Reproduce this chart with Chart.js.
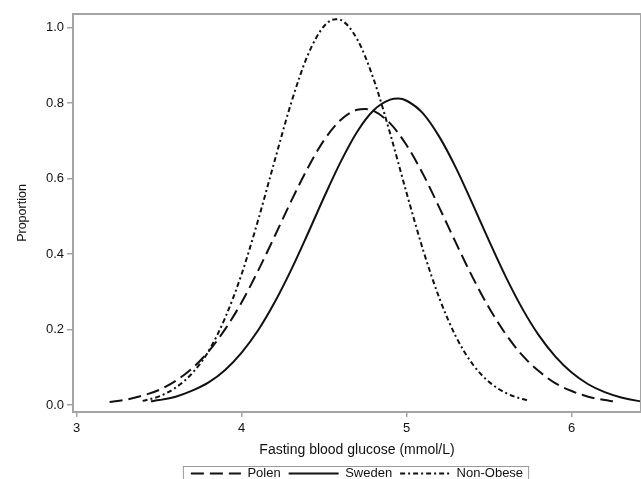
<!DOCTYPE html>
<html>
<head>
<meta charset="utf-8">
<script src="https://cdn.jsdelivr.net/npm/chart.js@4.4.0/dist/chart.umd.min.js"></script>
<style>
  html, body { margin: 0; padding: 0; background: #fff; }
  #wrap { width: 641px; height: 479px; }
</style>
</head>
<body>
<div id="wrap"><canvas id="myChart"></canvas></div>
<script>
// values
const polenX = [3.2, 3.3, 3.4, 3.5, 3.6, 3.7, 3.8, 3.9, 4.0, 4.1, 4.2, 4.3, 4.4, 4.5, 4.6, 4.7, 4.75,
  4.8, 4.9, 5.0, 5.1, 5.2, 5.3, 5.4, 5.5, 5.6, 5.7, 5.8, 5.9, 6.0, 6.1, 6.2, 6.25];
const polenY = [0.008, 0.014, 0.025, 0.040, 0.064, 0.097, 0.142, 0.201, 0.272, 0.356, 0.447, 0.540,
  0.627, 0.702, 0.755, 0.782, 0.784, 0.779, 0.746, 0.688, 0.611, 0.521, 0.428, 0.338, 0.257, 0.188, 0.132,
  0.090, 0.058, 0.037, 0.022, 0.013, 0.010];

const swedenX = [3.45, 3.5, 3.6, 3.7, 3.8, 3.9, 4.0, 4.1, 4.2, 4.3, 4.4, 4.5, 4.6, 4.7, 4.8, 4.9, 4.95,
  5.0, 5.1, 5.2, 5.3, 5.4, 5.5, 5.6, 5.7, 5.8, 5.9, 6.0, 6.1, 6.2, 6.3, 6.4, 6.5];
const swedenY = [0.010, 0.013, 0.022, 0.038, 0.060, 0.093, 0.139, 0.198, 0.272, 0.358, 0.453, 0.551,
  0.644, 0.724, 0.781, 0.809, 0.812, 0.806, 0.772, 0.709, 0.627, 0.532, 0.434, 0.340, 0.256, 0.185, 0.129,
  0.086, 0.055, 0.034, 0.020, 0.011, 0.006];

const nonObeseX = [3.4, 3.5, 3.6, 3.7, 3.8, 3.9, 4.0, 4.1, 4.2, 4.3, 4.4, 4.5, 4.57, 4.6, 4.7, 4.8, 4.9,
  5.0, 5.1, 5.2, 5.3, 5.4, 5.5, 5.6, 5.7, 5.73];
const nonObeseY = [0.011, 0.023, 0.046, 0.084, 0.143, 0.231, 0.347, 0.490, 0.647, 0.800, 0.926, 1.004,
  1.022, 1.020, 0.969, 0.863, 0.719, 0.561, 0.410, 0.281, 0.180, 0.108, 0.061, 0.032, 0.016, 0.013];

const xTicks = [3, 4, 5, 6];
const yTicks = [0, 0.2, 0.4, 0.6, 0.8, 1.0];

const seriesNames = ['Polen', 'Sweden', 'Non-Obese'];

function toPoints(xs, ys) {
  return xs.map((x, i) => ({ x: x, y: ys[i] }));
}

const FONT = "'Liberation Sans', Arial, sans-serif";
const FRAME = '#a4a4a4';

// box around the plot area (all four sides)
const framePlugin = {
  id: 'frame',
  afterDatasetsDraw(chart) {
    const a = chart.chartArea;
    const c = chart.ctx;
    c.save();
    c.strokeStyle = FRAME;
    c.lineWidth = 2;
    c.strokeRect(a.left, a.top, a.right - a.left, a.bottom - a.top);
    c.restore();
  }
};

// thin box around the legend entries
const legendBoxPlugin = {
  id: 'legendBox',
  afterDraw(chart) {
    const hb = chart.legend.legendHitBoxes;
    if (!hb || !hb.length) return;
    const first = hb[0];
    const last = hb[hb.length - 1];
    const c = chart.ctx;
    const left = first.left - 8;
    const right = last.left + last.width + 5;
    const top = first.top - 1;
    c.save();
    c.strokeStyle = '#9a9a9a';
    c.lineWidth = 1;
    c.strokeRect(left + 0.5, top + 0.5, right - left, 30);
    c.restore();
  }
};

var ctx = document.getElementById('myChart').getContext('2d');
var chart = new Chart(ctx, {
    type: 'line',
    data: {
        datasets: [{
            label: seriesNames[0],
            data: toPoints(polenX, polenY),
            borderColor: '#111',
            backgroundColor: '#111',
            borderWidth: 2,
            borderDash: [13, 6],
            pointRadius: 0,
            fill: false,
            cubicInterpolationMode: 'monotone'
        }, {
            label: seriesNames[1],
            data: toPoints(swedenX, swedenY),
            borderColor: '#111',
            backgroundColor: '#111',
            borderWidth: 2,
            pointRadius: 0,
            fill: false,
            cubicInterpolationMode: 'monotone'
        }, {
            label: seriesNames[2],
            data: toPoints(nonObeseX, nonObeseY),
            borderColor: '#111',
            backgroundColor: '#111',
            borderWidth: 2,
            borderDash: [5, 3, 2, 3],
            pointRadius: 0,
            fill: false,
            cubicInterpolationMode: 'monotone'
        }]
    },
    options: {
        responsive: true,
        maintainAspectRatio: false,
        animation: false,
        layout: { padding: { top: 14, right: 0, left: 0, bottom: -11 } },
        plugins: {
            tooltip: { enabled: false },
            legend: {
                position: 'bottom',
                fullSize: false,
                labels: {
                    usePointStyle: true,
                    pointStyle: 'line',
                    pointStyleWidth: 50,
                    padding: 8,
                    color: '#111',
                    font: { family: FONT, size: 13 },
                    // point style legends lose the dash, so put it back from the dataset
                    generateLabels: (chart) => {
                        const items = Chart.defaults.plugins.legend.labels.generateLabels(chart);
                        items.forEach((it) => {
                            const ds = chart.data.datasets[it.datasetIndex];
                            it.lineDash = ds.borderDash || [];
                            it.lineWidth = 2;
                            it.strokeStyle = ds.borderColor;
                        });
                        return items;
                    }
                }
            }
        },
        scales: {
            x: {
                type: 'linear',
                min: 2.978,
                max: 6.42,
                afterBuildTicks: (s) => { s.ticks = xTicks.map(v => ({ value: v })); },
                afterFit: (s) => { s.height = 47; },
                border: { display: false },
                grid: { drawOnChartArea: false, drawTicks: true, tickLength: 5, color: FRAME, lineWidth: 1.5 },
                ticks: { color: '#111', padding: 4, maxRotation: 0, font: { family: FONT, size: 13 } },
                title: {
                    display: true,
                    text: 'Fasting blood glucose (mmol/L)',
                    color: '#111',
                    padding: { top: 0, bottom: 0 },
                    font: { family: FONT, size: 14 }
                }
            },
            y: {
                min: -0.0185,
                max: 1.0358,
                afterBuildTicks: (s) => { s.ticks = yTicks.map(v => ({ value: v })); },
                afterFit: (s) => { s.width = 73; },
                border: { display: false },
                grid: { drawOnChartArea: false, drawTicks: true, tickLength: 6, color: FRAME, lineWidth: 1.5 },
                ticks: {
                    color: '#111',
                    padding: 3,
                    font: { family: FONT, size: 13 },
                    callback: (v) => Number(v).toFixed(1)
                },
                title: {
                    display: true,
                    text: 'Proportion',
                    color: '#111',
                    padding: { top: 15, bottom: 0 },
                    font: { family: FONT, size: 12.5 }
                }
            }
        }
    },
    plugins: [framePlugin, legendBoxPlugin]
});
</script>
</body>
</html>
